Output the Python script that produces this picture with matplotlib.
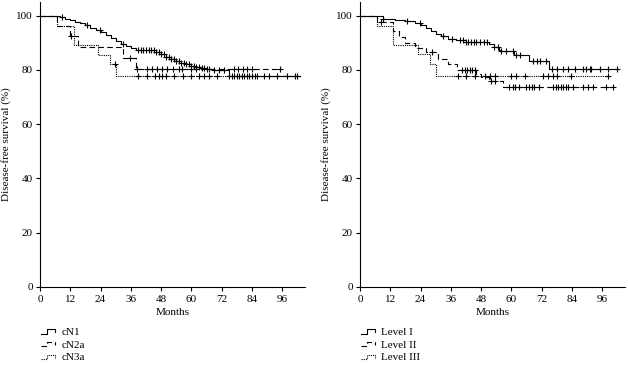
import numpy as np
import matplotlib
matplotlib.use("Agg")
import matplotlib.pyplot as plt
from matplotlib.legend_handler import HandlerLine2D
from matplotlib.lines import Line2D

plt.rcParams['font.family'] = ['Liberation Serif', 'DejaVu Serif']
plt.rcParams['font.size'] = 8

x_ticks = [0, 12, 24, 36, 48, 60, 72, 84, 96]
y_ticks = [0, 20, 40, 60, 80, 100]

# ---- Left panel: clinical N stage ----
left_labels = ["cN1", "cN2a", "cN3a"]
cN1_t = [0, 8, 10, 12, 14, 16, 18, 20, 22, 24, 26, 28, 30, 32, 34, 36, 38, 46, 48, 50, 52, 54, 56, 58, 60, 62, 64, 66, 68, 75, 103]
cN1_s = [100, 99.3, 98.8, 98.3, 97.8, 97.3, 96.5, 95.5, 94.8, 93.9, 92.8, 91.6, 90.6, 89.7, 88.9, 88.0, 87.2, 86.6, 85.8, 84.9, 84.1, 83.3, 82.6, 82.0, 81.5, 81.0, 80.6, 80.2, 79.8, 77.9, 77.9]
cN1_c = [8.6, 18.5, 23.6, 32.7, 39, 40, 41, 42, 43, 44, 45, 46, 47, 48, 49, 50, 51, 52, 53, 54, 55, 56, 57, 58, 59, 60, 61, 62, 63, 64, 65, 66, 67, 69, 71, 73,
         76, 77, 78, 79, 80, 81, 82, 83, 84, 85, 86, 88.6, 90.6, 93.9, 97.9, 101.2, 102]
cN2a_t = [0, 6.9, 12, 15, 33, 38, 95.5]
cN2a_s = [100, 96.3, 92.5, 88.6, 84.4, 80.4, 80.4]
cN2a_c = [12.4, 35.5, 38.4, 42.5, 44.3, 46.3, 48.3, 50.3, 52.6, 55, 56.2, 60, 62, 76.7, 78.5, 80.5, 82, 84, 95]
cN3a_t = [0, 6.9, 13.4, 23, 27.6, 30.3, 103]
cN3a_s = [100, 96.3, 89.2, 85.6, 82.1, 77.9, 77.9]
cN3a_c = [29.6, 38.8, 42.5, 45.5, 47, 48.5, 50, 53, 56.5, 60, 63, 65, 67, 70, 75]

# ---- Right panel: lymph node level ----
right_labels = ["Level I", "Level II", "Level III"]
L1_t = [0, 9, 14, 18, 22, 24, 26, 28, 30, 32, 35, 38, 42, 51, 53, 55, 56, 61, 67, 75, 102]
L1_s = [100, 98.8, 98.4, 97.9, 97.2, 96.5, 95.3, 94.2, 93.2, 92.3, 91.5, 90.9, 90.2, 89.7, 88.5, 87.5, 86.8, 85.3, 83.2, 80.4, 80.4]
L1_c = [9, 18.7, 23.7, 33, 36.5, 39.5, 41, 42, 43, 44, 45, 46, 47.4, 49, 50.5, 53, 54.5, 56, 58, 60.6, 62, 63.3, 68.5, 70, 71.5, 73.8,
        75.9, 77.9, 80.5, 82.5, 85.1, 88.4, 89.7, 91, 91.7, 95, 98.3, 102]
L2_t = [0, 6.8, 13, 15.5, 18, 22, 26, 31, 35, 38.5, 46, 48, 51, 56.5, 101]
L2_s = [100, 97.5, 94.5, 92, 90, 88, 86.5, 84, 82.3, 79.8, 78.5, 77.2, 75.9, 73.6, 73.6]
L2_c = [8.5, 28.5, 40.3, 41.5, 42.5, 43.5, 44.5, 45.5, 52, 53.5, 59, 60.5, 61.5, 63, 65.7, 67, 68, 69, 71, 76.5, 77.5, 78.5, 79.5, 80.5, 81.5, 82.5, 84.4, 88.4, 90.3, 92.3, 97.6, 100.3]
L3_t = [0, 6.8, 13.2, 23.1, 27.7, 30.3, 98.5]
L3_s = [100, 96.3, 89.2, 85.7, 82.0, 77.9, 77.9]
L3_c = [38.9, 42, 45.5, 49.4, 51.4, 53.4, 60, 61.9, 65.2, 72.6, 74.6, 76.6, 77.9, 83.8, 98.3]

styles = [dict(ls='-', lw=0.8), dict(ls=(0, (5, 3)), lw=0.8), dict(ls=(0, (1, 1)), lw=0.8)]


class StepHandler(HandlerLine2D):
    def create_artists(self, legend, orig_handle, xdescent, ydescent, width, height, fontsize, trans):
        x0 = -xdescent
        y0 = -ydescent
        xs = [x0, x0 + 0.4 * width, x0 + 0.4 * width, x0 + width, x0 + width]
        ys = [y0 + 0.15 * height, y0 + 0.15 * height, y0 + 0.7 * height, y0 + 0.7 * height, y0 + 0.35 * height]
        ln = Line2D(xs, ys)
        ln.update_from(orig_handle)
        ln.set_data(xs, ys)
        ln.set_drawstyle('default')
        ln.set_marker('None')
        ln.set_clip_on(False)
        ln.set_clip_box(None)
        ln.set_clip_path(None)
        ln.set_transform(trans)
        return [ln]


def km(ax, t, s, c, st):
    t = np.asarray(t, float)
    s = np.asarray(s, float)
    line, = ax.step(t, s, where='post', color='black', **st)
    c = np.asarray(c, float)
    idx = np.searchsorted(t, c, side='right') - 1
    ax.plot(c, s[idx], ls='none', marker='+', ms=4.5, mew=0.8, color='black')
    return line


fig = plt.figure(figsize=(6.28, 3.65), dpi=100)
axL = fig.add_axes([0.0637, 0.2137, 0.4220, 0.7808])
axR = fig.add_axes([0.5732, 0.2137, 0.4220, 0.7808])

panels = [
    (axL, [(cN1_t, cN1_s, cN1_c), (cN2a_t, cN2a_s, cN2a_c), (cN3a_t, cN3a_s, cN3a_c)], left_labels),
    (axR, [(L1_t, L1_s, L1_c), (L2_t, L2_s, L2_c), (L3_t, L3_s, L3_c)], right_labels),
]

for ax, series, labels in panels:
    handles = []
    for (t, s, c), st in zip(series, styles):
        handles.append(km(ax, t, s, c, st))
    ax.set_xlim(0, 105)
    ax.set_ylim(0, 105)
    ax.set_xticks(x_ticks)
    ax.set_yticks(y_ticks)
    ax.spines['top'].set_visible(False)
    ax.spines['right'].set_visible(False)
    for sp in ('left', 'bottom'):
        ax.spines[sp].set_linewidth(0.8)
    ax.tick_params(direction='out', length=3, width=0.8, labelsize=8)
    ax.tick_params(axis='x', pad=3)
    ax.tick_params(axis='y', pad=2)
    ax.set_xlabel('Months', fontsize=8, labelpad=3)
    ax.set_ylabel('Disease-free survival (%)', fontsize=8, labelpad=4)
    ax.legend(handles, labels, loc='upper left', bbox_to_anchor=(0.005, -0.14),
              frameon=False, fontsize=8, handlelength=1.2, handletextpad=0.6,
              labelspacing=0.28, borderaxespad=0, borderpad=0,
              handler_map={Line2D: StepHandler()})

fig.savefig('out.png', dpi=100)
